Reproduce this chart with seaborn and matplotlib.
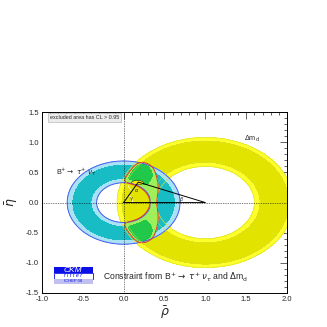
import numpy as np
import pandas as pd
import seaborn as sns
import matplotlib.pyplot as plt
from matplotlib.patches import Ellipse, Arc
from matplotlib.ticker import MultipleLocator, FormatStrFormatter

# constraint parameters (rho_bar, eta_bar plane)
tau_center = [0.0, 0.0]
tau_radii_95 = [0.33, 0.69]
tau_radii_68 = [0.40, 0.62]
dmd_center = [1.0, 0.0]
dmd_radii_95 = [0.60, 1.08]
dmd_radii_68 = [0.67, 1.02]

# combined fit: allowed ranges of R_u, R_t and R_u/R_t
comb95_ru = [0.32, 0.72]
comb95_rt = [0.59, 1.06]
comb95_ratio = [0.20, 0.80]
comb68_ru = [0.39, 0.69]
comb68_rt = [0.77, 1.03]
comb68_ratio = [0.17, 0.74]

apex = [0.18, 0.34]
best_fit = [0.17, 0.33]

x_ticks = [-1.0, -0.5, 0.0, 0.5, 1.0, 1.5, 2.0]
y_ticks = [-1.5, -1.0, -0.5, 0.0, 0.5, 1.0, 1.5]

sns.set_style("white")
plt.rcParams["font.family"] = ["Liberation Sans", "DejaVu Sans"]
plt.rcParams["axes.unicode_minus"] = False
plt.rcParams["mathtext.fontset"] = "dejavusans"

fig = plt.figure(figsize=(3.27, 3.27), dpi=100)
ax = fig.add_axes([0.128, 0.104, 0.75, 0.553])
aspect = 81.7 / 60.3

rho = np.linspace(-1.0, 2.0, 800)
eta = np.linspace(-1.5, 1.5, 800)
R, E = np.meshgrid(rho, eta)
r_tau = np.hypot(R - tau_center[0], E - tau_center[1])
r_dmd = np.hypot(R - dmd_center[0], E - dmd_center[1])
ratio = r_tau / r_dmd


def box_distance(ranges, p=6):
    # smoothed "Rfit" box: <= 1 inside all three ranges
    total = 0
    for val, (lo, hi) in zip([r_tau, r_dmd, ratio], ranges):
        total = total + (np.abs(val - (lo + hi) / 2) / ((hi - lo) / 2)) ** p
    return total ** (1 / p)


# delta m_d ring
ax.contourf(R, E, r_dmd, levels=dmd_radii_95, colors=["#ffff2a"])
ax.contourf(R, E, r_dmd, levels=dmd_radii_68, colors=["#e3e300"])

# B -> tau nu ring
ax.contourf(R, E, r_tau, levels=tau_radii_95, colors=["#a8e2f4"])
ax.contourf(R, E, r_tau, levels=tau_radii_68, colors=["#17bcc4"])
ax.contour(R, E, r_dmd, levels=dmd_radii_95, colors=["#d8e040"], linewidths=0.5)
ax.contour(R, E, r_tau, levels=tau_radii_95, colors=["#4a5cf0"], linewidths=0.7)

# combined constraint
d95 = box_distance([comb95_ru, comb95_rt, comb95_ratio])
d68 = box_distance([comb68_ru, comb68_rt, comb68_ratio])
ax.contourf(R, E, d95, levels=[0, 1], colors=["#9cf05c"])
ax.contourf(R, E, d68, levels=[0, 1], colors=["#22c84a"])
ax.contour(R, E, d95, levels=[1], colors=["#ee3322"], linewidths=0.7)
ax.contour(R, E, r_dmd, levels=dmd_radii_68, colors=["#d8e040"], linewidths=0.3)

# unitarity triangle
ax.axhline(0, color="black", ls=(0, (1, 1.5)), lw=0.5)
ax.axvline(0, color="black", ls=(0, (1, 1.5)), lw=0.5)
ax.add_patch(Ellipse(best_fit, 0.15, 0.07, facecolor="#ffee00",
                     edgecolor="black", lw=0.3))
ax.plot([0, apex[0], 1, 0], [0, apex[1], 0, 0], color="black", lw=0.7)
ax.add_patch(Arc((0, 0), 0.22, 0.22 * aspect, theta1=0, theta2=60, lw=0.5))
ax.add_patch(Arc((1, 0), 0.5, 0.5 * aspect, theta1=158, theta2=180, lw=0.5))
ax.add_patch(Arc(apex, 0.26, 0.26 * aspect, theta1=205, theta2=245, lw=0.5))
ax.text(0.06, 0.04, r"$\gamma$", fontsize=3.5)
ax.text(0.68, 0.03, r"$\beta$", fontsize=3.5)
ax.text(0.13, 0.17, r"$\alpha$", fontsize=3.5)

# labels
ax.text(-0.83, 0.5, r"B$^{+}$$\rightarrow$ $\tau^{+}$ $\nu_{\tau}$", fontsize=5.2,
        va="center")
ax.text(1.47, 1.05, r"$\Delta$m$_{\rm d}$", fontsize=5.2, va="center")
ax.text(-0.25, -1.24,
        r"Constraint from B$^{+}$$\rightarrow$ $\tau^{+}$ $\nu_{\tau}$ and $\Delta$m$_{\rm d}$",
        fontsize=6.2, va="center")
ax.text(-0.9, 1.41, "excluded area has CL > 0.95", fontsize=3.9, va="center",
        bbox=dict(boxstyle="square,pad=0.3", facecolor="#ececec",
                  edgecolor="#aaaaaa", lw=0.4))

# CKMfitter logo
ax.add_patch(plt.Rectangle((-0.85, -1.17), 0.47, 0.10, facecolor="#0a10e6", lw=0))
ax.add_patch(plt.Rectangle((-0.85, -1.26), 0.47, 0.09, facecolor="white",
                           edgecolor="#0a10e6", lw=0.6))
ax.add_patch(plt.Rectangle((-0.85, -1.35), 0.47, 0.09, facecolor="#c0c0f0", lw=0))
ax.text(-0.615, -1.12, "CKM", color="white", fontsize=6, style="italic",
        ha="center", va="center")
ax.text(-0.615, -1.215, "f i t t e r", color="#0a10e6", fontsize=4, style="italic",
        ha="center", va="center")
ax.text(-0.615, -1.305, "ICHEP 08", color="#0a10e6", fontsize=3, ha="center",
        va="center")

ax.set_xlim(-1.0, 2.0)
ax.set_ylim(-1.5, 1.5)
ax.set_xticks(x_ticks)
ax.set_yticks(y_ticks)
ax.xaxis.set_minor_locator(MultipleLocator(0.1))
ax.yaxis.set_minor_locator(MultipleLocator(0.1))
ax.xaxis.set_major_formatter(FormatStrFormatter("%.1f"))
ax.yaxis.set_major_formatter(FormatStrFormatter("%.1f"))
ax.tick_params(which="both", direction="in", top=True, right=True, labelsize=5.5,
               width=0.5, pad=2)
ax.tick_params(which="major", length=5)
ax.tick_params(which="minor", length=2.5)
for s in ax.spines.values():
    s.set_linewidth(0.7)
    s.set_color("black")
ax.set_xlabel(r"$\bar{\rho}$", fontsize=9, labelpad=1)
ax.set_ylabel(r"$\bar{\eta}$", fontsize=9, labelpad=4)

fig.savefig("out.png", dpi=100)
